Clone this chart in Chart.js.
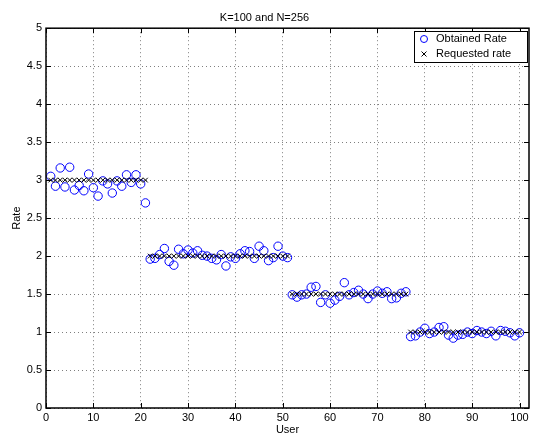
<!DOCTYPE html>
<html>
<head>
<meta charset="utf-8">
<script src="https://cdn.jsdelivr.net/npm/chart.js@4.4.0/dist/chart.umd.min.js"></script>
<style>
html,body{margin:0;padding:0;background:#fff;}
#wrap{width:537px;height:437px;position:relative;}
</style>
</head>
<body>
<div id="wrap"><canvas id="c" width="537" height="437"></canvas></div>
<script>
// ---- data ----
const users = Array.from({length: 100}, (_, i) => i + 1);
const requestedRate = [
  3,3,3,3,3,3,3,3,3,3,3,3,3,3,3,3,3,3,3,3,3,
  2,2,2,2,2,2,2,2,2,2,2,2,2,2,2,2,2,2,2,2,2,2,2,2,2,2,2,2,2,2,
  1.5,1.5,1.5,1.5,1.5,1.5,1.5,1.5,1.5,1.5,1.5,1.5,1.5,1.5,1.5,1.5,1.5,1.5,1.5,1.5,1.5,1.5,1.5,1.5,1.5,
  1,1,1,1,1,1,1,1,1,1,1,1,1,1,1,1,1,1,1,1,1,1,1,1
];
const obtainedRate = [
  3.05,2.92,3.16,2.91,3.17,2.87,2.93,2.86,3.08,2.90,2.79,2.99,2.95,2.83,2.99,2.92,3.07,2.97,3.07,2.95,2.70,
  1.96,1.97,2.02,2.10,1.93,1.88,2.09,2.03,2.08,2.04,2.07,2.01,2.00,1.97,1.95,2.02,1.87,1.99,1.97,2.03,2.07,2.06,1.97,2.13,2.07,1.94,1.98,2.13,2.00,1.98,
  1.49,1.46,1.49,1.50,1.59,1.60,1.39,1.49,1.38,1.42,1.47,1.65,1.49,1.52,1.55,1.50,1.44,1.50,1.54,1.51,1.53,1.44,1.45,1.51,1.53,
  0.94,0.95,1.00,1.05,0.98,1.00,1.06,1.07,0.96,0.92,0.96,0.97,1.00,0.98,1.02,1.00,0.98,1.01,0.95,1.02,1.01,0.99,0.95,0.99
];
const xTicks = [0,10,20,30,40,50,60,70,80,90,100];
const yTicks = [0,0.5,1,1.5,2,2.5,3,3.5,4,4.5,5];
const titleText = 'K=100 and N=256';
const xLabel = 'User';
const yLabel = 'Rate';
const seriesLabels = ['Obtained Rate', 'Requested rate'];

const FONT = 'Liberation Sans, Arial, Helvetica, sans-serif';

const boxPlugin = {
  id: 'boxPlugin',
  afterDatasetsDraw(chart) {
    const {ctx, chartArea: a, scales} = chart;
    ctx.save();
    ctx.strokeStyle = '#000';
    ctx.lineWidth = 1;
    // inner ticks
    ctx.beginPath();
    const tl = 5;
    xTicks.forEach(v => {
      const px = Math.round(scales.x.getPixelForValue(v)) + 0.5;
      ctx.moveTo(px, a.bottom); ctx.lineTo(px, a.bottom - tl);
      ctx.moveTo(px, a.top); ctx.lineTo(px, a.top + tl);
    });
    yTicks.forEach(v => {
      const py = Math.round(scales.y.getPixelForValue(v)) + 0.5;
      ctx.moveTo(a.left, py); ctx.lineTo(a.left + tl, py);
      ctx.moveTo(a.right, py); ctx.lineTo(a.right - tl, py);
    });
    ctx.stroke();
    // box
    ctx.lineWidth = 1.5;
    ctx.strokeRect(a.left, a.top, a.right - a.left, a.bottom - a.top);
    // legend
    const lx = 414, ly = 31, lw = 113, lh = 31;
    ctx.fillStyle = '#fff';
    ctx.fillRect(lx, ly, lw, lh);
    ctx.lineWidth = 1;
    ctx.strokeRect(lx + 0.5, ly + 0.5, lw, lh);
    ctx.font = '11px ' + FONT;
    ctx.fillStyle = '#000';
    ctx.textBaseline = 'middle';
    ctx.textAlign = 'left';
    const ds = chart.data.datasets;
    // obtained
    ctx.strokeStyle = '#0000ff';
    ctx.beginPath(); ctx.arc(424, 39, 3.5, 0, Math.PI * 2); ctx.stroke();
    ctx.fillText(ds[0].label, 436, 39);
    // requested
    ctx.strokeStyle = '#000';
    ctx.beginPath();
    ctx.moveTo(421.5, 51.5); ctx.lineTo(426.5, 56.5);
    ctx.moveTo(426.5, 51.5); ctx.lineTo(421.5, 56.5);
    ctx.stroke();
    ctx.fillText(ds[1].label, 436, 54);
    ctx.restore();
  }
};

const gridOpts = {color: 'rgba(0,0,0,0.5)', drawTicks: false, lineWidth: 1};
const borderOpts = {display: false, dash: [1, 3]};

new Chart(document.getElementById('c'), {
  type: 'scatter',
  data: {
    datasets: [
      {
        label: seriesLabels[0],
        data: users.map((u, i) => ({x: u, y: obtainedRate[i]})),
        pointStyle: 'circle',
        pointRadius: 4.2,
        borderColor: '#0000ff',
        backgroundColor: 'rgba(0,0,0,0)',
        borderWidth: 1,
        order: 1
      },
      {
        label: seriesLabels[1],
        data: users.map((u, i) => ({x: u, y: requestedRate[i]})),
        pointStyle: 'crossRot',
        pointRadius: 3.3,
        borderColor: '#000',
        backgroundColor: '#000',
        borderWidth: 1,
        order: 0
      }
    ]
  },
  options: {
    responsive: false,
    animation: false,
    events: [],
    layout: {padding: {left: 0, right: 8, top: 0, bottom: 0}},
    plugins: {
      legend: {display: false},
      tooltip: {enabled: false},
      title: {
        display: true,
        text: titleText,
        color: '#000',
        font: {family: FONT, size: 11, weight: 'normal'},
        padding: {top: 11, bottom: 4}
      }
    },
    scales: {
      x: {
        type: 'linear',
        min: 0, max: 102,
        afterBuildTicks: s => { s.ticks = xTicks.map(v => ({value: v})); },
        afterFit: s => { s.height = 29; },
        border: borderOpts,
        grid: gridOpts,
        ticks: {color: '#000', font: {family: FONT, size: 11}, padding: 3, maxRotation: 0,
                callback: v => String(v)},
        title: {display: true, text: xLabel, color: '#000', font: {family: FONT, size: 11}, padding: {top: 0, bottom: 0}}
      },
      y: {
        type: 'linear',
        min: 0, max: 5,
        afterBuildTicks: s => { s.ticks = yTicks.map(v => ({value: v})); },
        afterFit: s => { s.width = 46; },
        border: borderOpts,
        grid: gridOpts,
        ticks: {color: '#000', font: {family: FONT, size: 11}, padding: 4,
                callback: v => String(v)},
        title: {display: true, text: yLabel, color: '#000', font: {family: FONT, size: 11}, padding: {top: 10, bottom: 0}}
      }
    }
  },
  plugins: [boxPlugin]
});
</script>
</body>
</html>
